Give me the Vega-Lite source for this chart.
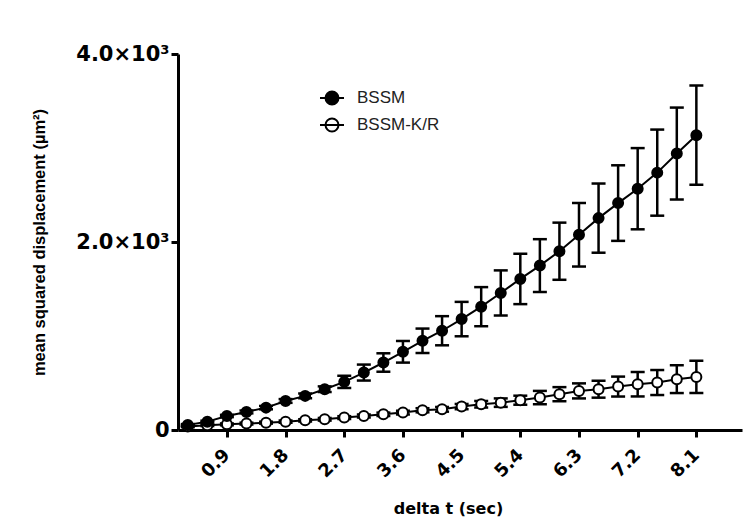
{
  "$schema": "https://vega.github.io/schema/vega-lite/v6.json",
  "width": 564,
  "height": 376,
  "autosize": "none",
  "padding": {"left": 178, "top": 54, "right": 3, "bottom": 99},
  "background": "white",
  "config": {
    "view": {"stroke": null},
    "font": "Liberation Sans",
    "axis": {
      "domainColor": "black", "domainWidth": 3, "tickColor": "black", "tickWidth": 3, "tickSize": 7,
      "labelFont": "DejaVu Sans", "labelFontWeight": "bold", "labelColor": "black",
      "titleFont": "Liberation Sans", "titleFontWeight": "bold", "titleColor": "black", "grid": false
    }
  },
  "data": {"values": [
    {"t": 0.3, "series": "BSSM-K/R", "msd": 38, "lo": 30, "hi": 46},
    {"t": 0.6, "series": "BSSM-K/R", "msd": 50, "lo": 42, "hi": 58},
    {"t": 0.9, "series": "BSSM-K/R", "msd": 60, "lo": 50, "hi": 70},
    {"t": 1.2, "series": "BSSM-K/R", "msd": 68, "lo": 58, "hi": 78},
    {"t": 1.5, "series": "BSSM-K/R", "msd": 78, "lo": 68, "hi": 88},
    {"t": 1.8, "series": "BSSM-K/R", "msd": 89, "lo": 77, "hi": 101},
    {"t": 2.1, "series": "BSSM-K/R", "msd": 103, "lo": 91, "hi": 115},
    {"t": 2.4, "series": "BSSM-K/R", "msd": 114, "lo": 100, "hi": 128},
    {"t": 2.7, "series": "BSSM-K/R", "msd": 132, "lo": 117, "hi": 147},
    {"t": 3.0, "series": "BSSM-K/R", "msd": 149, "lo": 133, "hi": 165},
    {"t": 3.3, "series": "BSSM-K/R", "msd": 167, "lo": 149, "hi": 185},
    {"t": 3.6, "series": "BSSM-K/R", "msd": 185, "lo": 165, "hi": 205},
    {"t": 3.9, "series": "BSSM-K/R", "msd": 210, "lo": 188, "hi": 232},
    {"t": 4.2, "series": "BSSM-K/R", "msd": 220, "lo": 195, "hi": 245},
    {"t": 4.5, "series": "BSSM-K/R", "msd": 249, "lo": 221, "hi": 277},
    {"t": 4.8, "series": "BSSM-K/R", "msd": 274, "lo": 239, "hi": 309},
    {"t": 5.1, "series": "BSSM-K/R", "msd": 291, "lo": 246, "hi": 336},
    {"t": 5.4, "series": "BSSM-K/R", "msd": 317, "lo": 269, "hi": 365},
    {"t": 5.7, "series": "BSSM-K/R", "msd": 345, "lo": 274, "hi": 416},
    {"t": 6.0, "series": "BSSM-K/R", "msd": 381, "lo": 306, "hi": 456},
    {"t": 6.3, "series": "BSSM-K/R", "msd": 416, "lo": 336, "hi": 496},
    {"t": 6.6, "series": "BSSM-K/R", "msd": 434, "lo": 344, "hi": 524},
    {"t": 6.9, "series": "BSSM-K/R", "msd": 462, "lo": 356, "hi": 568},
    {"t": 7.2, "series": "BSSM-K/R", "msd": 487, "lo": 357, "hi": 617},
    {"t": 7.5, "series": "BSSM-K/R", "msd": 505, "lo": 372, "hi": 638},
    {"t": 7.8, "series": "BSSM-K/R", "msd": 541, "lo": 393, "hi": 689},
    {"t": 8.1, "series": "BSSM-K/R", "msd": 565, "lo": 393, "hi": 737},
    {"t": 0.3, "series": "BSSM", "msd": 53, "lo": 43, "hi": 63},
    {"t": 0.6, "series": "BSSM", "msd": 89, "lo": 79, "hi": 99},
    {"t": 0.9, "series": "BSSM", "msd": 149, "lo": 137, "hi": 161},
    {"t": 1.2, "series": "BSSM", "msd": 192, "lo": 177, "hi": 207},
    {"t": 1.5, "series": "BSSM", "msd": 238, "lo": 220, "hi": 256},
    {"t": 1.8, "series": "BSSM", "msd": 309, "lo": 289, "hi": 329},
    {"t": 2.1, "series": "BSSM", "msd": 363, "lo": 338, "hi": 388},
    {"t": 2.4, "series": "BSSM", "msd": 434, "lo": 404, "hi": 464},
    {"t": 2.7, "series": "BSSM", "msd": 512, "lo": 447, "hi": 577},
    {"t": 3.0, "series": "BSSM", "msd": 611, "lo": 526, "hi": 696},
    {"t": 3.3, "series": "BSSM", "msd": 718, "lo": 620, "hi": 816},
    {"t": 3.6, "series": "BSSM", "msd": 832, "lo": 717, "hi": 947},
    {"t": 3.9, "series": "BSSM", "msd": 949, "lo": 819, "hi": 1079},
    {"t": 4.2, "series": "BSSM", "msd": 1056, "lo": 901, "hi": 1211},
    {"t": 4.5, "series": "BSSM", "msd": 1180, "lo": 997, "hi": 1363},
    {"t": 4.8, "series": "BSSM", "msd": 1312, "lo": 1104, "hi": 1520},
    {"t": 5.1, "series": "BSSM", "msd": 1458, "lo": 1218, "hi": 1698},
    {"t": 5.4, "series": "BSSM", "msd": 1607, "lo": 1339, "hi": 1875},
    {"t": 5.7, "series": "BSSM", "msd": 1749, "lo": 1468, "hi": 2030},
    {"t": 6.0, "series": "BSSM", "msd": 1902, "lo": 1598, "hi": 2206},
    {"t": 6.3, "series": "BSSM", "msd": 2077, "lo": 1739, "hi": 2415},
    {"t": 6.6, "series": "BSSM", "msd": 2254, "lo": 1886, "hi": 2622},
    {"t": 6.9, "series": "BSSM", "msd": 2414, "lo": 2012, "hi": 2816},
    {"t": 7.2, "series": "BSSM", "msd": 2567, "lo": 2135, "hi": 2999},
    {"t": 7.5, "series": "BSSM", "msd": 2738, "lo": 2280, "hi": 3196},
    {"t": 7.8, "series": "BSSM", "msd": 2941, "lo": 2452, "hi": 3430},
    {"t": 8.1, "series": "BSSM", "msd": 3136, "lo": 2608, "hi": 3664}
  ]},
  "encoding": {
    "x": {
      "field": "t", "type": "quantitative",
      "scale": {"domain": [0.15, 8.8], "nice": false, "zero": false},
      "axis": {
        "title": "delta t (sec)", "titleFont": "DejaVu Sans", "titleFontSize": 16, "titlePadding": 20, "titleX": 270,
        "values": [0.9, 1.8, 2.7, 3.6, 4.5, 5.4, 6.3, 7.2, 8.1], "format": ".1f",
        "labelFontSize": 18, "labelAngle": -45, "labelAlign": "right", "labelBaseline": "middle", "labelPadding": 15
      }
    }
  },
  "layer": [
    {
      "mark": {"type": "rule", "color": "black", "strokeWidth": 2.5},
      "encoding": {
        "y": {"field": "lo", "type": "quantitative", "scale": {"domain": [0, 4000], "nice": false}},
        "y2": {"field": "hi"}
      }
    },
    {
      "mark": {"type": "tick", "orient": "horizontal", "color": "black", "size": 14, "thickness": 2.5, "opacity": 1},
      "encoding": {"y": {"field": "lo", "type": "quantitative"}}
    },
    {
      "mark": {"type": "tick", "orient": "horizontal", "color": "black", "size": 14, "thickness": 2.5, "opacity": 1},
      "encoding": {"y": {"field": "hi", "type": "quantitative"}}
    },
    {
      "mark": {"type": "line", "color": "black", "strokeWidth": 2},
      "encoding": {
        "y": {"field": "msd", "type": "quantitative"},
        "detail": {"field": "series"}
      }
    },
    {
      "mark": {"type": "point", "shape": "circle", "size": 100, "stroke": "black", "strokeWidth": 2, "filled": true, "opacity": 1},
      "encoding": {
        "y": {
          "field": "msd", "type": "quantitative",
          "axis": {
            "title": "mean squared displacement (µm²)", "titleFontSize": 16.5, "titlePadding": 28,
            "values": [0, 2000, 4000],
            "labelExpr": "datum.value == 0 ? '0' : datum.value == 2000 ? '2.0×10³' : '4.0×10³'",
            "labelFontSize": 21, "labelPadding": 2
          }
        },
        "fill": {
          "field": "series", "type": "nominal",
          "scale": {"domain": ["BSSM", "BSSM-K/R"], "range": ["black", "white"]},
          "legend": {
            "title": null, "orient": "none", "legendX": 141, "legendY": 31,
            "symbolType": "M-1,0H1M-0.54,0A0.54,0.54 0 1 1 0.54,0A0.54,0.54 0 1 1 -0.54,0Z",
            "symbolSize": 576, "symbolStrokeColor": "black", "symbolStrokeWidth": 2,
            "labelFont": "Liberation Sans", "labelFontSize": 17, "labelColor": "#222222",
            "rowPadding": 3, "labelOffset": 12
          }
        }
      }
    }
  ]
}
